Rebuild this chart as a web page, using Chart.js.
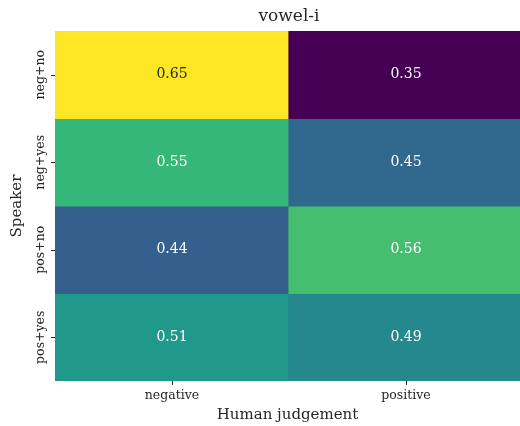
<!DOCTYPE html>
<html>
<head>
<meta charset="utf-8">
<script src="https://cdn.jsdelivr.net/npm/chart.js@4/dist/chart.umd.min.js"></script>
<style>
  html, body { margin: 0; padding: 0; background: #fff; }
  #wrap { width: 520px; height: 426px; }
</style>
</head>
<body>
<div id="wrap"><canvas id="chart"></canvas></div>
<script>
const chartTitle = 'vowel-i';
const xTitle = 'Human judgement';
const yTitle = 'Speaker';
const columns = ['negative', 'positive'];
const rows = ['neg+no', 'neg+yes', 'pos+no', 'pos+yes'];
// one array per speaker row, values for [negative, positive]
const negNo = [0.65, 0.35];
const negYes = [0.55, 0.45];
const posNo = [0.44, 0.56];
const posYes = [0.51, 0.49];
const values = [negNo, negYes, posNo, posYes];
const vmin = 0.35, vmax = 0.65;

const FONT = '"DejaVu Serif", serif';
const INK = '#262626';

// viridis, 10 evenly spaced stops
const viridisStops = ['#440154', '#482878', '#3e4989', '#31688e', '#26828e',
  '#1f9e89', '#35b779', '#6ece58', '#b5de2b', '#fde725'];

function hexToRgb(h) {
  return [parseInt(h.slice(1, 3), 16), parseInt(h.slice(3, 5), 16), parseInt(h.slice(5, 7), 16)];
}

function viridis(v) {
  let t = (v - vmin) / (vmax - vmin);
  t = Math.max(0, Math.min(1, t));
  const pos = t * (viridisStops.length - 1);
  const i = Math.min(Math.floor(pos), viridisStops.length - 2);
  const f = pos - i;
  const a = hexToRgb(viridisStops[i]), b = hexToRgb(viridisStops[i + 1]);
  return a.map((x, k) => Math.round(x + (b[k] - x) * f));
}

function rgbStr(c) { return `rgb(${c[0]},${c[1]},${c[2]})`; }

function luminance(c) {
  const lin = c.map(x => {
    x = x / 255;
    return x <= 0.03928 ? x / 12.92 : Math.pow((x + 0.055) / 1.055, 2.4);
  });
  return 0.2126 * lin[0] + 0.7152 * lin[1] + 0.0722 * lin[2];
}

const datasets = rows.map((r, i) => ({
  label: r,
  data: columns.map((c, j) => ({ x: j + 0.5, y: [i, i + 1] })),
  backgroundColor: columns.map((c, j) => rgbStr(viridis(values[i][j]))),
  borderWidth: 0,
  inflateAmount: 0.6,
  grouped: false,
  barPercentage: 1,
  categoryPercentage: 1,
}));

// tick marks, title, rotated row labels and cell annotations
const heatText = {
  id: 'heatText',
  afterDatasetsDraw(chart) {
    const { ctx, chartArea, scales } = chart;
    ctx.save();

    ctx.strokeStyle = INK;
    ctx.lineWidth = 1;
    ctx.beginPath();
    columns.forEach((c, j) => {
      const px = Math.round(scales.x.getPixelForValue(j + 0.5)) + 0.5;
      ctx.moveTo(px, chartArea.bottom);
      ctx.lineTo(px, chartArea.bottom + 4);
    });
    rows.forEach((r, i) => {
      const py = Math.round(scales.y.getPixelForValue(i + 0.5)) + 0.5;
      ctx.moveTo(chartArea.left, py);
      ctx.lineTo(chartArea.left - 4, py);
    });
    ctx.stroke();

    ctx.textAlign = 'center';
    ctx.textBaseline = 'middle';

    ctx.font = '14px ' + FONT;
    values.forEach((row, i) => {
      row.forEach((v, j) => {
        const px = scales.x.getPixelForValue(j + 0.5);
        const py = scales.y.getPixelForValue(i + 0.5);
        ctx.fillStyle = luminance(viridis(v)) > 0.408 ? INK : '#ffffff';
        ctx.fillText(v.toFixed(2), px, py);
      });
    });

    ctx.fillStyle = INK;
    ctx.font = '12.5px ' + FONT;
    rows.forEach((r, i) => {
      const py = scales.y.getPixelForValue(i + 0.5);
      ctx.save();
      ctx.translate(41, py);
      ctx.rotate(-Math.PI / 2);
      ctx.fillText(r, 0, 0);
      ctx.restore();
    });

    ctx.font = '17px ' + FONT;
    ctx.fillText(chartTitle, (chartArea.left + scales.x.getPixelForValue(2)) / 2, 17);
    ctx.restore();
  }
};

new Chart(document.getElementById('chart'), {
  type: 'bar',
  data: { datasets },
  options: {
    responsive: true,
    maintainAspectRatio: false,
    animation: false,
    layout: { padding: { top: 31, left: 0, right: 0, bottom: 0 } },
    plugins: {
      legend: { display: false },
      tooltip: { enabled: false },
    },
    scales: {
      x: {
        type: 'linear',
        offset: false,
        min: 0,
        max: 465 / 234,
        afterBuildTicks: s => { s.ticks = columns.map((c, j) => ({ value: j + 0.5 })); },
        afterFit: s => { s.height = 45; },
        ticks: {
          autoSkip: false,
          maxRotation: 0,
          padding: 7,
          color: INK,
          font: { family: FONT, size: 12.5 },
          callback: v => columns[Math.floor(v)],
        },
        grid: { display: false, drawTicks: false, tickLength: 0 },
        border: { display: false },
        title: {
          display: true, text: xTitle, color: INK,
          font: { family: FONT, size: 15 },
          padding: { top: 0, bottom: 2 },
        },
      },
      y: {
        type: 'linear',
        reverse: true,
        min: 0,
        max: rows.length,
        afterBuildTicks: s => { s.ticks = rows.map((r, i) => ({ value: i + 0.5 })); },
        afterFit: s => { s.width = 55; },
        ticks: { display: false },
        grid: { display: false, drawTicks: false, tickLength: 0 },
        border: { display: false },
        title: {
          display: true, text: yTitle, color: INK,
          font: { family: FONT, size: 15 },
          padding: { top: 8, bottom: 0 },
        },
      },
    },
  },
  plugins: [heatText],
});
</script>
</body>
</html>
